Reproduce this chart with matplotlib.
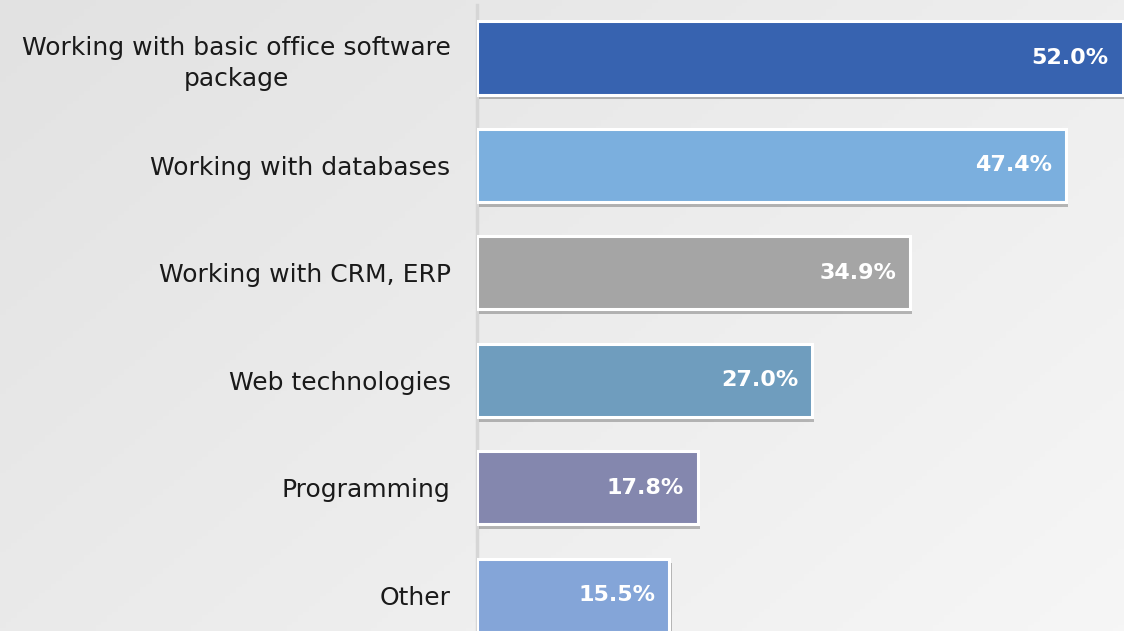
import matplotlib
matplotlib.use("Agg")
import matplotlib.pyplot as plt
import matplotlib.patheffects as pe
import numpy as np

categories = ['Working with basic office software\npackage', 'Working with databases',
              'Working with CRM, ERP', 'Web technologies', 'Programming', 'Other']
values = [52.0, 47.4, 34.9, 27.0, 17.8, 15.5]
colors = ['#3763b0', '#7bafde', '#a5a5a5', '#6f9dbe', '#8487ae', '#84a5d8']

plt.rcParams['font.family'] = ['DejaVu Sans']

fig = plt.figure(figsize=(11.24, 6.31), dpi=100)

# soft grey gradient behind everything
bg = fig.add_axes([0, 0, 1, 1], zorder=-1)
yy, xx = np.mgrid[0:1:200j, 0:1:200j]
grad = 0.6 * xx + 0.4 * yy
bg.imshow(grad, cmap=matplotlib.colors.LinearSegmentedColormap.from_list(
    'bg', ['#e2e2e2', '#f6f6f6']), aspect='auto', extent=[0, 1, 0, 1], origin='upper')
bg.axis('off')

ax = fig.add_axes([477 / 1124, 0, 1 - 477 / 1124, 1])
ax.patch.set_alpha(0)

y = np.arange(len(categories))
bars = ax.barh(y, values, height=0.68, color=colors, edgecolor='white', linewidth=2.2,
               zorder=3)
for b in bars:
    b.set_path_effects([pe.SimplePatchShadow(offset=(1.5, -3.5), shadow_rgbFace='#444444', alpha=0.35),
                        pe.Normal()])

for yi, v in zip(y, values):
    ax.annotate('{:.1f}%'.format(v), xy=(v, yi), xytext=(-10, 0), textcoords='offset points',
                ha='right', va='center', color='white', fontsize=16, fontweight='bold', zorder=4)

ax.set_xlim(0, 52.1)
ax.set_ylim(5.335, -0.54)
ax.set_yticks(y)
ax.set_yticklabels(categories, fontsize=18, color='#1a1a1a', multialignment='center',
                   linespacing=1.35)
ax.tick_params(axis='y', length=0, pad=19)
ax.set_xticks([])
for s in ['top', 'right', 'bottom']:
    ax.spines[s].set_visible(False)
ax.spines['left'].set_color('#d6d6d6')
ax.spines['left'].set_linewidth(2.5)
ax.spines['left'].set_zorder(1)
ax.spines['left'].set_bounds(-0.49, 5.335)

fig.savefig('out.png', dpi=100)
